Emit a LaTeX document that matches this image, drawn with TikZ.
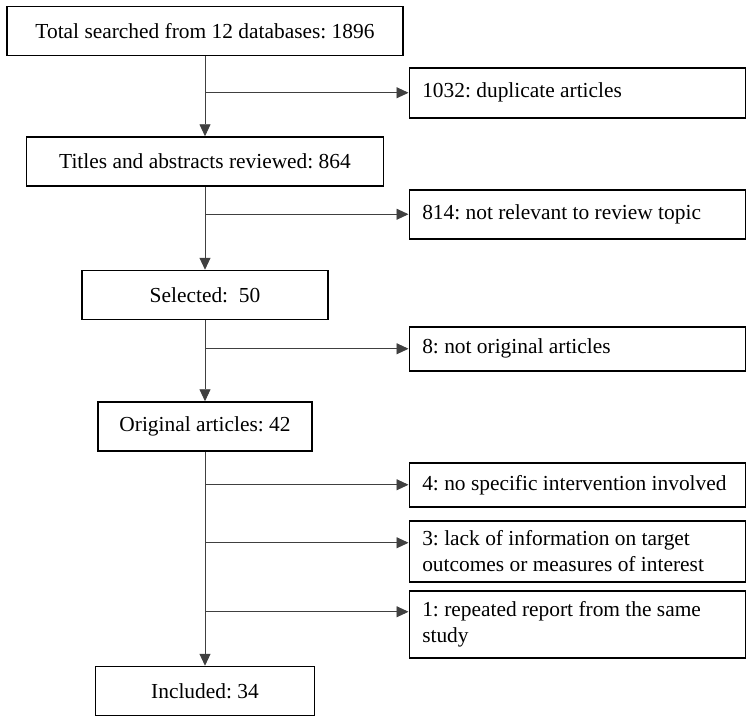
\documentclass[tikz,border=0pt]{standalone}
\usepackage{fontspec}
\setmainfont{Liberation Serif}
\usetikzlibrary{positioning,arrows.meta}

\tikzset{
	stage/.style={draw=black, line width=1.5pt, minimum height=49pt, inner sep=0pt,
		font=\fontsize{21.4}{26}\selectfont\frenchspacing},
	reason/.style={draw=black, line width=1.5pt, anchor=north west, inner xsep=13pt,
		inner ysep=0pt, text width=310pt, align=flush left,
		font=\fontsize{21.4}{26}\selectfont\frenchspacing},
	flow/.style={draw=black!75, line width=0.9pt, -{Triangle[length=12pt,width=11pt]}}
}

\begin{document}
\begin{tikzpicture}[x=1pt, y=-1pt]
	\useasboundingbox (0,0) rectangle (751,718);
	% Nodes
	% Main stages
	\node[stage, minimum width=396pt] (total) at (205,31) {Total searched from 12 databases: 1896};
	\node[stage, minimum width=357pt, below=80pt of total] (review) {Titles and abstracts reviewed: 864};
	\node[stage, minimum width=246pt, below=83pt of review] (selected) {Selected:\ \ 50};
	\node[stage, minimum width=214pt, below=81pt of selected] (original) {Original articles: 42};
	\node[stage, minimum width=219pt, below=214pt of original] (included) {Included: 34};
	
	% Excluded records
	\node[reason, minimum height=50pt] (dup) at (408.5,67) {1032: duplicate articles};
	\node[reason, minimum height=49pt] (topic) at (408.5,189) {814: not relevant to review topic};
	\node[reason, minimum height=44pt] (notorig) at (408.5,326) {8: not original articles};
	\node[reason, minimum height=44pt] (interv) at (408.5,462) {4: no specific intervention involved};
	\node[reason, minimum height=61pt] (lack) at (408.5,520) {3: lack of information on target\\outcomes or measures of interest};
	\node[reason, minimum height=67pt] (repeat) at (408.5,590) {1: repeated report from the same\\study};
	
	% Arrow ends on the two-line boxes
	\coordinate (lack-in) at ([yshift=8.5pt]lack.west);
	\coordinate (repeat-in) at ([yshift=12.5pt]repeat.west);
	
	% Edges
	% Down the main line
	\draw[flow] (total) -- (review);
	\draw[flow] (review) -- (selected);
	\draw[flow] (selected) -- (original);
	\draw[flow] (original) -- (included);
	% Out to the exclusions
	\draw[flow] (total.south |- dup.west) -- (dup.west);
	\draw[flow] (review.south |- topic.west) -- (topic.west);
	\draw[flow] (selected.south |- notorig.west) -- (notorig.west);
	\draw[flow] (original.south |- interv.west) -- (interv.west);
	\draw[flow] (original.south |- lack-in) -- (lack-in);
	\draw[flow] (original.south |- repeat-in) -- (repeat-in);
\end{tikzpicture}
\end{document}
